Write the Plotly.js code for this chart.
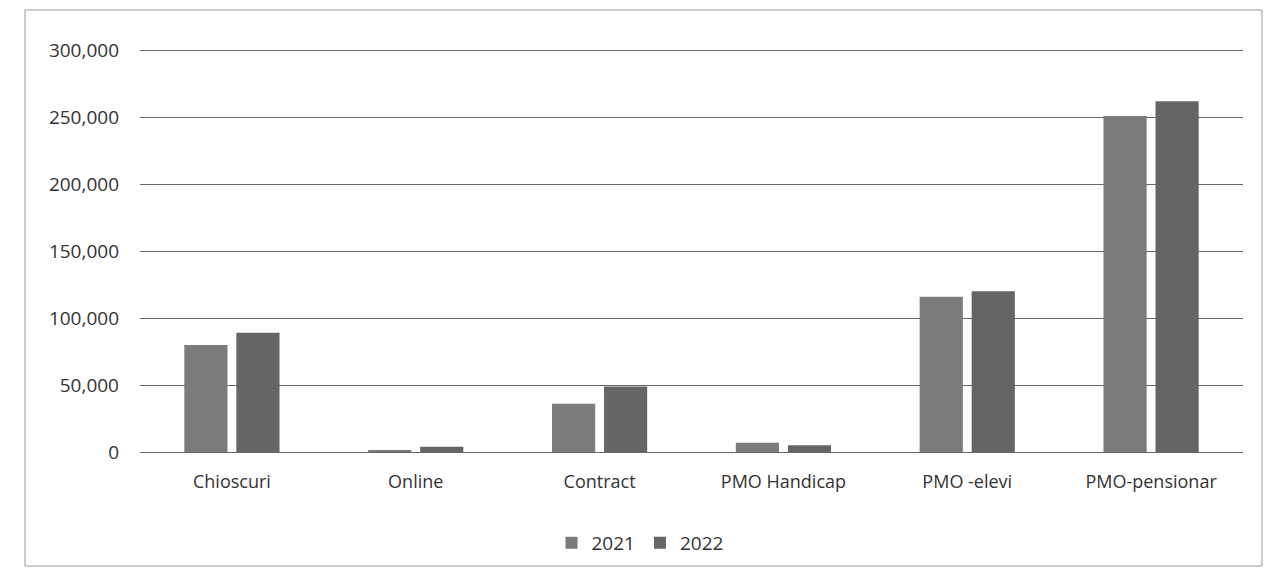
<!DOCTYPE html>
<html>
<head>
<meta charset="utf-8">
<script src="https://cdn.plot.ly/plotly-3.0.1.min.js"></script>
<style>html,body{margin:0;padding:0;background:#fff;}#chart{width:1264px;height:584px;}</style>
</head>
<body>
<div id="chart"></div>
<script>
const categories = ["Chioscuri", "Online", "Contract", "PMO Handicap", "PMO -elevi", "PMO-pensionar"];
const values2021 = [80000, 1500, 36000, 7000, 116000, 251000];
const values2022 = [89000, 4000, 49000, 5000, 120000, 262000];
const seriesNames = ["2021", "2022"];
const yTicks = [0, 50000, 100000, 150000, 200000, 250000, 300000];
const yTickLabels = ["0", "50,000", "100,000", "150,000", "200,000", "250,000", "300,000"];

const W = 1264, H = 584;
const mL = 140, mR = 21, mT = 49, mB = 132;
const pw = W - mL - mR, ph = H - mT - mB;
const px = x => (x - mL) / pw;
const py = y => (H - mB - y) / ph;

const traces = [
  {type: "bar", name: seriesNames[0], x: categories, y: values2021, marker: {color: "#7b7b7b"}},
  {type: "bar", name: seriesNames[1], x: categories, y: values2022, marker: {color: "#656565"}}
];

const layout = {
  width: W, height: H,
  margin: {l: mL, r: mR, t: mT, b: mB},
  paper_bgcolor: "#ffffff", plot_bgcolor: "#ffffff",
  font: {family: "'Open Sans', 'Liberation Sans', sans-serif", color: "#333333", size: 18},
  barmode: "group",
  bargap: 0.434,
  bargroupgap: 0.17,
  showlegend: true,
  legend: {orientation: "h", x: px(640), xanchor: "center", y: py(543), yanchor: "middle",
           font: {size: 19, color: "#333333"}, itemwidth: 30, traceorder: "normal"},
  xaxis: {type: "category", showgrid: false, zeroline: false, showline: false,
          ticks: "", ticklabelstandoff: 17, tickfont: {size: 18, color: "#333333"}},
  yaxis: {range: [0, 301000], tickvals: yTicks, ticktext: yTickLabels,
          showgrid: true, gridcolor: "#666666", gridwidth: 1, zeroline: true,
          zerolinecolor: "#666666", zerolinewidth: 1, showline: false, ticks: "",
          ticklabelstandoff: 20, tickfont: {size: 19, color: "#333333"}},
  shapes: [
    {type: "rect", xref: "paper", yref: "paper", x0: px(25), x1: px(1262), y0: py(566), y1: py(10),
     line: {color: "#9a9a9a", width: 1}, fillcolor: "rgba(0,0,0,0)", layer: "below"}
  ]
};

Plotly.newPlot("chart", traces, layout, {displayModeBar: false, staticPlot: true});
</script>
</body>
</html>
